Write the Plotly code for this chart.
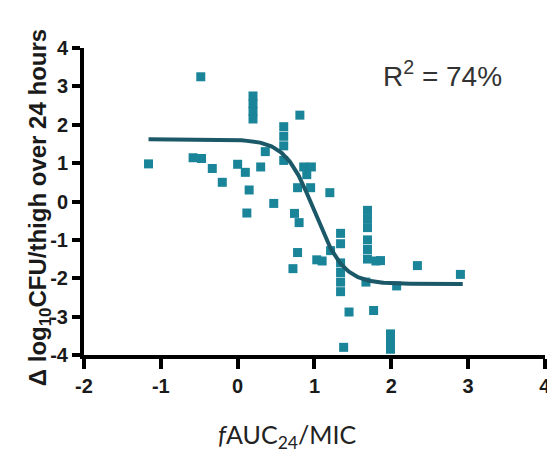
import numpy as np
import plotly.graph_objects as go

# Observed change in bacterial burden vs exposure (log10 fAUC24/MIC)
auc_mic = [-1.16, -0.48, -0.58, -0.47, -0.33, -0.20, 0.00, 0.10, 0.30, 0.15,
           0.12, 0.47, 0.36, 0.20, 0.20, 0.20, 0.20, 0.81, 0.60, 0.60,
           0.60, 0.60, 0.86, 0.96, 0.90, 0.78, 0.95, 1.20, 0.74, 0.80,
           1.69, 1.69, 1.69, 1.34, 1.34, 0.78, 0.72, 1.03, 1.10, 1.21,
           1.34, 1.34, 1.34, 1.34, 1.69, 1.69, 1.69, 1.80, 1.67, 2.07,
           1.45, 1.77, 1.38, 1.99, 1.99, 1.99, 2.34, 2.90, 1.86]
delta_cfu = [0.98, 3.25, 1.14, 1.12, 0.86, 0.50, 0.97, 0.76, 0.90, 0.30,
             -0.30, -0.05, 1.30, 2.75, 2.55, 2.35, 2.15, 2.25, 1.95, 1.70,
             1.45, 1.07, 0.90, 0.90, 0.70, 0.36, 0.36, 0.23, -0.31, -0.55,
             -0.23, -0.45, -0.68, -0.83, -1.10, -1.33, -1.75, -1.52, -1.55, -1.28,
             -1.60, -1.85, -2.10, -2.35, -1.00, -1.25, -1.50, -1.55, -2.10, -2.20,
             -2.88, -2.84, -3.80, -3.45, -3.65, -3.85, -1.67, -1.90, -1.54]

# Sigmoid Emax fit parameters
fit_top = 1.62
fit_bottom = -2.15
fit_x50 = 1.0
fit_hill = 2.3
fit_range = [-1.16, 2.93]

x_tick_vals = [-2, -1, 0, 1, 2, 3, 4]
y_tick_vals = [-4, -3, -2, -1, 0, 1, 2, 3, 4]

xf = np.linspace(fit_range[0], fit_range[1], 300)
yf = fit_bottom + (fit_top - fit_bottom) / (1 + 10 ** ((xf - fit_x50) * fit_hill))

fig = go.Figure()
fig.add_trace(go.Scatter(
    x=auc_mic, y=delta_cfu, mode="markers",
    marker=dict(symbol="square", size=9, color="#1a8499"),
    showlegend=False, hoverinfo="x+y",
))
fig.add_trace(go.Scatter(
    x=xf, y=yf, mode="lines",
    line=dict(color="#1b5868", width=4),
    showlegend=False, hoverinfo="skip",
))

tick_font = dict(family="Liberation Sans, Arial, sans-serif", size=20, color="#1a1a1a",
                 weight="bold")

fig.update_xaxes(
    range=[-2, 4.001], tickvals=x_tick_vals, ticktext=[str(v) for v in x_tick_vals],
    showgrid=False, zeroline=False, showline=True, linecolor="black", linewidth=4,
    ticks="outside", ticklen=10, tickwidth=4, tickcolor="black",
    tickfont=tick_font, ticklabeloverflow="allow", automargin=False,
)
fig.update_yaxes(
    range=[-4, 4], tickvals=y_tick_vals, ticktext=[str(v) for v in y_tick_vals],
    showgrid=False, zeroline=False, showline=True, linecolor="black", linewidth=4,
    ticks="outside", ticklen=8, tickwidth=3.5, tickcolor="black",
    tickfont=tick_font, automargin=False,
)

# Axis titles
fig.add_annotation(
    x=-0.1345, y=0.48, xref="paper", yref="paper", showarrow=False, textangle=-90,
    text="<b>Δ log<sub>10</sub>CFU/thigh over 24 hours</b>",
    font=dict(family="Liberation Sans, Arial, sans-serif", size=24, color="#1a1a1a"),
)
fig.add_annotation(
    x=0.44, y=-0.325, xref="paper", yref="paper", showarrow=False,
    text="<i>f</i>AUC<sub>24</sub>/MIC",
    font=dict(family="Lato, sans-serif", size=25, color="#222"),
)

fig.add_annotation(
    x=2.67, y=3.33, xref="x", yref="y", showarrow=False,
    text="R<sup>2</sup> = 74%",
    font=dict(family="Liberation Sans, Arial, sans-serif", size=28, color="#333"),
)

fig.update_layout(
    width=547, height=454,
    margin=dict(l=84, r=2, t=48, b=99),
    plot_bgcolor="white", paper_bgcolor="white",
)

fig.write_html("out.html")
